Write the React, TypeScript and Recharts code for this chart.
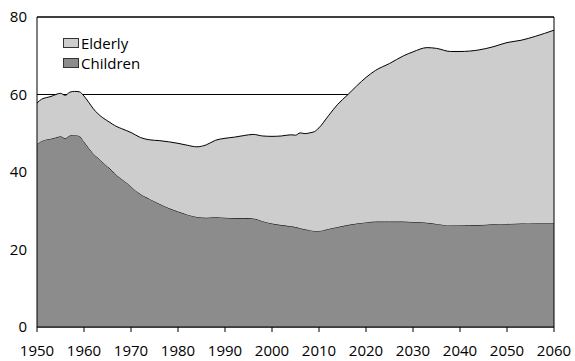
import React from "react";
import { AreaChart, Area, XAxis, YAxis, CartesianGrid, ReferenceLine, Legend } from "recharts";

const years = [
  1950, 1951, 1952, 1953, 1954, 1955, 1956, 1957, 1958, 1959, 1960, 1961, 1962, 1963, 1964, 1965,
  1966, 1967, 1968, 1969, 1970, 1972, 1974, 1976, 1978, 1980, 1982, 1984, 1986, 1988, 1990, 1992,
  1994, 1996, 1998, 2000, 2002, 2004, 2005, 2006, 2007, 2008, 2009, 2010, 2012, 2014, 2016, 2018,
  2020, 2022, 2025, 2028, 2030, 2033, 2035, 2038, 2040, 2044, 2047, 2050, 2053, 2056, 2060,
];

const children = [
  47.2, 48.0, 48.4, 48.6, 48.9, 49.2, 48.7, 49.4, 49.5, 49.3, 47.8, 46.2, 44.7, 43.6, 42.5, 41.4,
  40.3, 39.1, 38.2, 37.3, 36.2, 34.3, 33.0, 31.8, 30.7, 29.8, 29.0, 28.4, 28.2, 28.3, 28.2, 28.1,
  28.1, 28.0, 27.3, 26.7, 26.3, 26.0, 25.8, 25.5, 25.2, 25.0, 24.8, 24.8, 25.3, 25.8, 26.3, 26.7,
  27.0, 27.2, 27.2, 27.2, 27.1, 26.9, 26.6, 26.2, 26.2, 26.3, 26.5, 26.6, 26.7, 26.8, 26.8,
];

const elderly = [
  10.6, 10.8, 10.8, 10.9, 11.1, 11.1, 11.1, 11.2, 11.3, 11.4, 11.8, 11.8, 11.6, 11.4, 11.5, 11.8,
  12.1, 12.6, 13.0, 13.4, 14.0, 14.6, 15.3, 16.3, 17.1, 17.6, 17.9, 18.1, 18.8, 19.9, 20.5, 20.9,
  21.3, 21.7, 22.0, 22.5, 23.0, 23.6, 23.7, 24.6, 24.7, 25.1, 25.6, 26.6, 29.2, 31.7, 33.5, 35.5,
  37.4, 39.0, 40.8, 42.8, 43.9, 45.2, 45.3, 44.9, 44.9, 45.2, 45.8, 46.8, 47.3, 48.2, 49.8,
];

const xTicks = [1950, 1960, 1970, 1980, 1990, 2000, 2010, 2020, 2030, 2040, 2050, 2060];
const yTicks = [0, 20, 40, 60, 80];

const data = years.map((year, i) => ({ year, children: children[i], elderly: elderly[i] }));

const FONT = "'Open Sans', sans-serif";

const legendItems = [
  { label: "Elderly", color: "#cdcdcd" },
  { label: "Children", color: "#8c8c8c" },
];

const renderLegend = () => (
  <div style={{ fontFamily: FONT, fontSize: 15, color: "#000" }}>
    {legendItems.map((item) => (
      <div key={item.label} style={{ display: "flex", alignItems: "center", height: 20 }}>
        <span
          style={{
            display: "inline-block",
            width: 14,
            height: 8,
            background: item.color,
            border: "1px solid #333",
            marginRight: 2,
          }}
        />
        <span>{item.label}</span>
      </div>
    ))}
  </div>
);

export default function App() {
  return (
    <div style={{ position: "absolute", left: 0, top: 0, width: 575, height: 361, background: "#fff" }}>
      <AreaChart width={575} height={361} data={data} margin={{ top: 17, right: 21, left: 7, bottom: 4 }}>
        <CartesianGrid vertical={false} stroke="#000" strokeWidth={1} />
        <XAxis
          dataKey="year"
          type="number"
          domain={[1950, 2060]}
          ticks={xTicks}
          height={30}
          tickSize={5}
          tickMargin={13}
          stroke="#000"
          tick={{ fill: "#000", fontSize: 15, fontFamily: FONT }}
        />
        <YAxis
          domain={[0, 80]}
          ticks={yTicks}
          width={30}
          tickLine={false}
          tickSize={0}
          tickMargin={10}
          stroke="#000"
          tick={{ fill: "#000", fontSize: 15, fontFamily: FONT }}
        />
        <Legend
          layout="horizontal"
          verticalAlign="middle"
          align="center"
          content={renderLegend}
          wrapperStyle={{ left: 63, top: 33, width: "auto" }}
        />
        <Area
          type="monotone"
          dataKey="children"
          stackId="1"
          stroke="#000"
          strokeWidth={1}
          fill="#8c8c8c"
          fillOpacity={1}
          isAnimationActive={false}
        />
        <Area
          type="monotone"
          dataKey="elderly"
          stackId="1"
          stroke="#000"
          strokeWidth={1}
          fill="#cdcdcd"
          fillOpacity={1}
          isAnimationActive={false}
        />
        <ReferenceLine y={80} stroke="#000" />
        <ReferenceLine x={2060} stroke="#000" />
      </AreaChart>
    </div>
  );
}
